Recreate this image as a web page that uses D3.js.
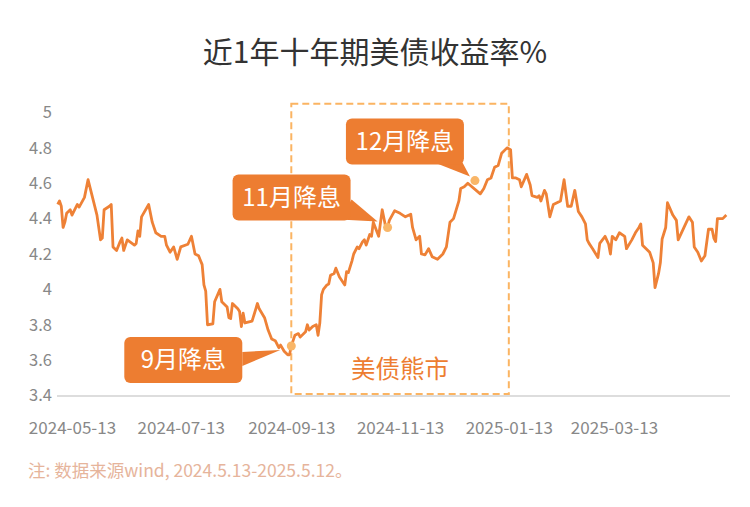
<!DOCTYPE html>
<html><head><meta charset="utf-8">
<script src="https://cdn.jsdelivr.net/npm/d3@7"></script>
<style>
html,body{margin:0;padding:0;background:#fff;}
svg{display:block;font-family:"Noto Sans CJK SC","Noto Sans",sans-serif;}
</style></head><body>
<svg id="chart" width="750" height="507"></svg>
<script>
// ---- data ----
const dates = [
"2024-05-05","2024-05-06","2024-05-07","2024-05-08","2024-05-09","2024-05-10","2024-05-12","2024-05-13","2024-05-16","2024-05-17",
"2024-05-20","2024-05-22","2024-05-25","2024-05-27","2024-05-29","2024-05-30","2024-05-31","2024-06-03","2024-06-04","2024-06-05",
"2024-06-07","2024-06-09","2024-06-10","2024-06-11","2024-06-13","2024-06-17","2024-06-18","2024-06-19","2024-06-20","2024-06-21",
"2024-06-25","2024-06-27","2024-06-29","2024-07-02","2024-07-04","2024-07-05","2024-07-07","2024-07-09","2024-07-11","2024-07-13",
"2024-07-17","2024-07-19","2024-07-21","2024-07-23","2024-07-24","2024-07-25","2024-07-26","2024-07-27","2024-07-28","2024-07-31",
"2024-08-01","2024-08-04","2024-08-05","2024-08-08","2024-08-09","2024-08-10","2024-08-11","2024-08-14","2024-08-15","2024-08-16",
"2024-08-17","2024-08-18","2024-08-22","2024-08-25","2024-08-26","2024-08-29","2024-08-31","2024-09-02","2024-09-04","2024-09-06",
"2024-09-07","2024-09-09","2024-09-11","2024-09-12","2024-09-13","2024-09-15","2024-09-17","2024-09-18","2024-09-21","2024-09-22",
"2024-09-23","2024-09-25","2024-09-27","2024-09-28","2024-09-29","2024-09-30","2024-10-01","2024-10-03","2024-10-04","2024-10-05",
"2024-10-07","2024-10-08","2024-10-10","2024-10-13","2024-10-14","2024-10-15","2024-10-17","2024-10-18","2024-10-20","2024-10-21",
"2024-10-23","2024-10-24","2024-10-25","2024-10-27","2024-10-28","2024-10-29","2024-11-01","2024-11-03","2024-11-05","2024-11-06",
"2024-11-07","2024-11-10","2024-11-13","2024-11-16","2024-11-19","2024-11-20","2024-11-22","2024-11-24","2024-11-25","2024-11-27",
"2024-11-29","2024-12-01","2024-12-04","2024-12-07","2024-12-09","2024-12-11","2024-12-13","2024-12-16","2024-12-17","2024-12-19",
"2024-12-21","2024-12-28","2024-12-30","2025-01-01","2025-01-03","2025-01-05","2025-01-07","2025-01-09","2025-01-12","2025-01-14",
"2025-01-15","2025-01-17","2025-01-19","2025-01-20","2025-01-23","2025-01-25","2025-01-26","2025-01-29","2025-01-30","2025-01-31",
"2025-02-02","2025-02-03","2025-02-05","2025-02-07","2025-02-09","2025-02-11","2025-02-13","2025-02-15","2025-02-17","2025-02-19",
"2025-02-21","2025-02-23","2025-02-25","2025-02-26","2025-02-27","2025-03-01","2025-03-04","2025-03-05","2025-03-08","2025-03-10",
"2025-03-11","2025-03-12","2025-03-14","2025-03-16","2025-03-19","2025-03-20","2025-03-23","2025-03-25","2025-03-27","2025-03-28",
"2025-03-29","2025-03-31","2025-04-02","2025-04-04","2025-04-05","2025-04-07","2025-04-08","2025-04-09","2025-04-11","2025-04-12",
"2025-04-15","2025-04-17","2025-04-18","2025-04-21","2025-04-24","2025-04-26","2025-04-27","2025-04-29","2025-05-01","2025-05-03",
"2025-05-05","2025-05-07","2025-05-08","2025-05-09","2025-05-10","2025-05-13","2025-05-15"
];
const yields = [
4.48,4.50,4.47,4.35,4.38,4.43,4.45,4.42,4.48,4.465,
4.52,4.62,4.50,4.42,4.28,4.29,4.45,4.47,4.48,4.24,
4.22,4.27,4.29,4.22,4.28,4.25,4.26,4.33,4.30,4.41,
4.48,4.38,4.32,4.30,4.30,4.25,4.21,4.24,4.17,4.24,
4.255,4.30,4.20,4.19,4.165,4.14,4.025,3.99,3.80,3.805,
3.93,4.00,3.93,3.90,3.84,3.835,3.92,3.89,3.875,3.79,
3.865,3.81,3.82,3.92,3.89,3.84,3.77,3.72,3.71,3.67,
3.685,3.65,3.63,3.63,3.68,3.74,3.75,3.73,3.76,3.80,
3.77,3.79,3.80,3.74,3.81,3.97,4.00,4.025,4.03,4.08,
4.09,4.12,4.07,4.025,4.10,4.095,4.16,4.20,4.24,4.23,
4.27,4.28,4.25,4.31,4.30,4.38,4.30,4.45,4.35,4.35,
4.39,4.445,4.43,4.41,4.425,4.35,4.28,4.30,4.20,4.195,
4.23,4.185,4.17,4.20,4.24,4.38,4.40,4.50,4.57,4.58,
4.60,4.54,4.57,4.62,4.63,4.69,4.70,4.77,4.80,4.79,
4.63,4.63,4.62,4.58,4.65,4.59,4.53,4.52,4.53,4.50,
4.56,4.54,4.41,4.48,4.49,4.50,4.62,4.47,4.47,4.56,
4.44,4.41,4.37,4.28,4.26,4.23,4.18,4.26,4.30,4.255,
4.20,4.30,4.28,4.32,4.30,4.23,4.28,4.32,4.35,4.37,
4.25,4.23,4.21,4.15,4.01,4.09,4.15,4.285,4.35,4.49,
4.42,4.39,4.28,4.345,4.41,4.38,4.24,4.21,4.16,4.19,
4.34,4.34,4.29,4.27,4.40,4.40,4.42
];
const yTicks = [3.4,3.6,3.8,4,4.2,4.4,4.6,4.8,5];
const yTickLabels = ["3.4","3.6","3.8","4","4.2","4.4","4.6","4.8","5"];
const xTickDates = ["2024-05-13","2024-07-13","2024-09-13","2024-11-13","2025-01-13","2025-03-13"];
const annoLabels = ["9月降息","11月降息","12月降息"];
const annoDates = ["2024-09-13","2024-11-06","2024-12-25"];
const annoValues = [3.68,4.35,4.615];
const bearRange = ["2024-09-13","2025-01-13"];
const bearLabel = "美债熊市";
const title = "近1年十年期美债收益率%";
const note = "注: 数据来源wind, 2024.5.13-2025.5.12。";

// ---- styles ----
const LINE = "#ee8136", BOX = "#ed7d31", DOT = "#f9b668", DASH = "#fbb462";
const FONT = "'Noto Sans CJK SC','Noto Sans',sans-serif";

const parse = d3.utcParse("%Y-%m-%d");
const svg = d3.select("#chart");

const x = d3.scaleUtc()
  .domain([parse("2024-05-13"), parse("2025-03-13")])
  .range([72, 614]);
const y = d3.scaleLinear().domain([3.4, 5]).range([395.5, 112.5]);

// title
svg.append("text").attr("x", 375).attr("y", 63).attr("text-anchor", "middle")
  .attr("font-size", 30).attr("fill", "#333").text(title);

// y axis
const yAxis = svg.append("g").attr("transform", "translate(57,0)")
  .call(d3.axisLeft(y).tickValues(yTicks).tickSize(0).tickPadding(5)
    .tickFormat((d, i) => yTickLabels[i]));
yAxis.select(".domain").remove();
yAxis.selectAll("text").attr("font-size", 16.5).attr("fill", "#888").attr("font-family", FONT);

// x axis
svg.append("line").attr("x1", 57).attr("x2", 730).attr("y1", 396).attr("y2", 396)
  .attr("stroke", "#bbb").attr("stroke-width", 1);
const xAxis = svg.append("g").attr("transform", "translate(0,396)")
  .call(d3.axisBottom(x).tickValues(xTickDates.map(parse)).tickSize(0).tickPadding(26)
    .tickFormat(d3.utcFormat("%Y-%m-%d")));
xAxis.select(".domain").remove();
xAxis.selectAll("text").attr("font-size", 17).attr("fill", "#888").attr("font-family", FONT);

// bear market dashed box
const bx0 = x(parse(bearRange[0])), bx1 = x(parse(bearRange[1]));
svg.append("rect").attr("x", bx0).attr("y", y(5.05)).attr("width", bx1 - bx0)
  .attr("height", y(3.4) - 1.5 - y(5.05))
  .attr("fill", "none").attr("stroke", DASH).attr("stroke-width", 2)
  .attr("stroke-dasharray", "7,4");
svg.append("text").attr("x", (bx0 + bx1) / 2).attr("y", 378).attr("text-anchor", "middle")
  .attr("font-size", 24.5).attr("fill", BOX).text(bearLabel);

// line
const data = dates.map((d, i) => ({ date: parse(d), v: yields[i] }));
svg.append("path").datum(data)
  .attr("fill", "none").attr("stroke", LINE).attr("stroke-width", 2.8)
  .attr("stroke-linejoin", "round")
  .attr("d", d3.line().x(d => x(d.date)).y(d => y(d.v)));

// annotations: box offsets relative to the dot
const boxOff = [
  { dx: -167, dy: -9, tail: [[-49, 6], [-49, 20], [-11, 4]] },
  { dx: -155, dy: -53, tail: [[-48, -8], [-36, -28], [-10, -6]] },
  { dx: -129, dy: -62, tail: [[-38, -17], [-13, -19], [-5, -4]] }
];
const BW = 118, BH = 46;
annoLabels.forEach((lab, i) => {
  const px = x(parse(annoDates[i])), py = y(annoValues[i]);
  const o = boxOff[i];
  const g = svg.append("g");
  g.append("path").attr("fill", BOX)
    .attr("d", "M" + o.tail.map(p => [px + p[0], py + p[1]].join(",")).join("L") + "Z");
  g.append("rect").attr("x", px + o.dx).attr("y", py + o.dy).attr("width", BW).attr("height", BH)
    .attr("rx", 6).attr("fill", BOX);
  g.append("text").attr("x", px + o.dx + BW / 2).attr("y", py + o.dy + BH / 2 + 8.5)
    .attr("text-anchor", "middle").attr("font-size", 24).attr("fill", "#fff").text(lab);
  svg.append("circle").attr("cx", px).attr("cy", py).attr("r", 4.5).attr("fill", DOT);
});

// footnote
svg.append("text").attr("x", 28).attr("y", 477).attr("font-size", 17.5)
  .attr("fill", "#e6b49b").text(note);
</script>
</body></html>
